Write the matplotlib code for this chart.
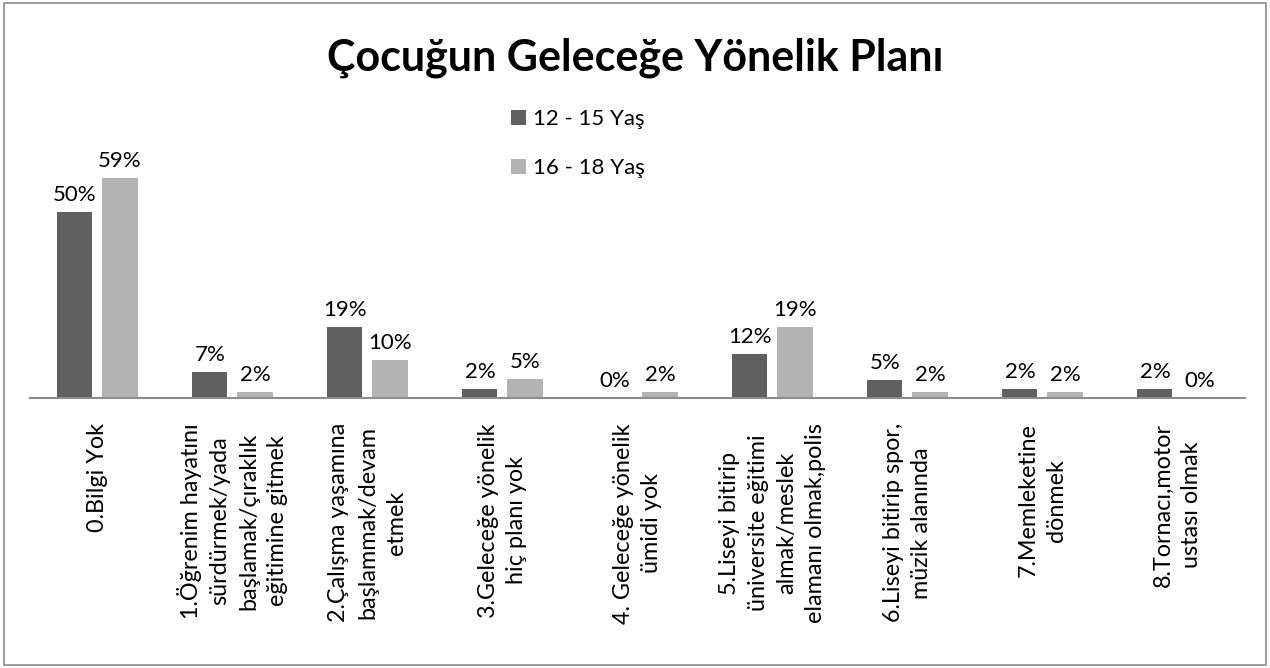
import matplotlib
matplotlib.use("Agg")
import matplotlib.pyplot as plt
from matplotlib.patches import Rectangle
import numpy as np

plt.rcParams['font.family'] = ['Lato', 'DejaVu Sans']

# Chart data
categories = [
    "0.Bilgi Yok",
    "1.Öğrenim hayatını\nsürdürmek/yada\nbaşlamak/çıraklık\neğitimine gitmek",
    "2.Çalışma yaşamına\nbaşlammak/devam\netmek",
    "3.Geleceğe yönelik\nhiç planı yok",
    "4. Geleceğe yönelik\nümidi yok",
    "5.Liseyi bitirip\nüniversite eğitimi\nalmak/meslek\nelamanı olmak,polis",
    "6.Liseyi bitirip spor,\nmüzik alanında",
    "7.Memleketine\ndönmek",
    "8.Tornacı,motor\nustası olmak",
]
series_names = ["12 - 15 Yaş", "16 - 18 Yaş"]
age_12_15 = [50.0, 7.1, 19.0, 2.4, 0.0, 11.9, 4.8, 2.4, 2.4]
age_16_18 = [59.0, 1.7, 10.2, 5.1, 1.7, 19.0, 1.7, 1.7, 0.0]

colors = ["#606060", "#b3b3b3"]

fig = plt.figure(figsize=(12.7, 6.68), dpi=100)
ax = fig.add_axes([0.0236, 0.404, 0.9567, 0.446])

x = np.arange(len(categories))
width = 0.26
offset = 0.167

bars1 = ax.bar(x - offset, age_12_15, width, color=colors[0], label=series_names[0])
bars2 = ax.bar(x + offset, age_16_18, width, color=colors[1], label=series_names[1])

for bars, vals in ((bars1, age_12_15), (bars2, age_16_18)):
    for b, v in zip(bars, vals):
        ax.annotate(f"{v:.0f}%", (b.get_x() + b.get_width() / 2, b.get_height()),
                    xytext=(0, 5), textcoords="offset points",
                    ha="center", va="bottom", fontsize=16)

ax.set_xlim(-0.5, len(categories) - 0.5)
ax.set_ylim(0, 80)
ax.set_yticks([])
ax.set_xticks(x)
ax.set_xticklabels(categories, rotation=90, ha="center", va="top",
                   multialignment="center", fontsize=16.8, linespacing=1.45)
ax.tick_params(axis="x", length=0, pad=18)
for s in ("top", "right", "left"):
    ax.spines[s].set_visible(False)
ax.spines["bottom"].set_color("#8c8c8c")
ax.spines["bottom"].set_linewidth(1.5)

fig.text(0.5, 0.913, "Çocuğun Geleceğe Yönelik Planı", ha="center", va="center",
         fontsize=31, fontweight="bold")

fig.legend(loc="upper left", bbox_to_anchor=(0.3935, 0.853), frameon=False,
           fontsize=16, handlelength=0.7, handleheight=0.7,
           handletextpad=0.3, labelspacing=1.3, borderpad=0)

fig.patches.append(Rectangle((0.003, 0.005), 0.994, 0.99, transform=fig.transFigure,
                             fill=False, edgecolor="#8c8c8c", linewidth=1.2))

fig.savefig("out.png", dpi=100)
